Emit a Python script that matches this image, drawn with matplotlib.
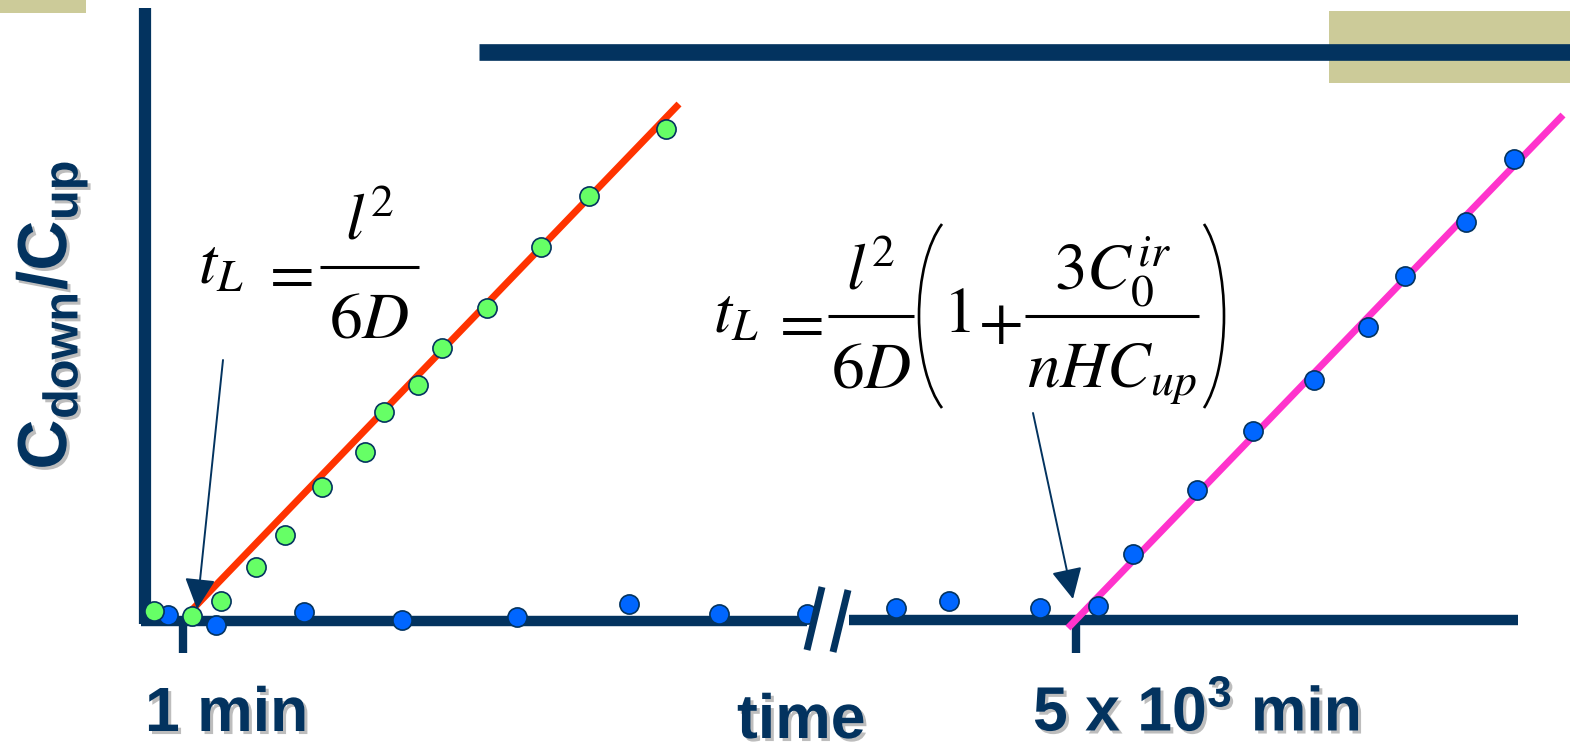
"""Schematic permeation curve: downstream/upstream concentration vs time, with lag-time formulas."""

import matplotlib
matplotlib.use("Agg")
import matplotlib.pyplot as plt
import matplotlib.patheffects as pe
import numpy as np
from matplotlib.patches import Rectangle, Arc

NAVY = "#03335f"
TAN = "#cccb99"
GREEN = "#66ff66"
BLUE = "#0066ff"
RED = "#ff3300"
PINK = "#ff33cc"

# schematic coordinates (drawing units, y grows downward like the slide)
green_x = [154, 192, 221, 256, 285, 322, 365, 384, 418, 442, 487, 541, 589, 666]
green_y = [611, 616, 601, 567, 535, 487, 452, 412, 385, 348, 308, 247, 196, 129]

blue_x = [168, 216, 304, 402, 517, 629, 719, 807, 896, 949, 1040,
          1098, 1133, 1197, 1253, 1314, 1368, 1405, 1466, 1514]
blue_y = [615, 625, 612, 620, 617, 604, 614, 614, 608, 601, 608,
          606, 554, 490, 431, 380, 327, 276, 222, 159]

red_x = [190, 679]
red_y = [612, 104]
pink_x = [1068, 1563]
pink_y = [628, 115]

tick_x = [183, 1076]
tick_labels = ["1 min", r"5 x 10$^{\mathregular{3}}$ min"]

shadow = [pe.withSimplePatchShadow(offset=(2.2, -2.2), shadow_rgbFace="#888888", alpha=0.55)]
MATH_FS = 47


def math(ax, x, y, s, ha="left", va="baseline"):
    ax.text(x, y, s, fontsize=MATH_FS, math_fontfamily="stix", ha=ha, va=va,
            color="black", zorder=8)


def fraction(ax, x0, x1, y, num, den):
    # numerator / denominator laid out like the slide's equation editor
    xc = (x0 + x1) / 2
    ax.plot([x0, x1], [y, y], color="black", lw=2.2, solid_capstyle="butt", zorder=8)
    math(ax, xc, y - 27, num, ha="center")
    math(ax, xc, y + 71, den, ha="center")


def paren(ax, x_mid, x_end, y_mid, half_h, left=True):
    # big parenthesis as an elliptical arc: x_mid = bulge, x_end = tips
    a = 2 * abs(x_end - x_mid)
    b = half_h / np.sin(np.radians(60))
    xc = x_mid + a if left else x_mid - a
    ang = np.degrees(np.arctan(b / a * np.tan(np.radians(60))))
    if left:
        t1, t2 = 180 - ang, 180 + ang
    else:
        t1, t2 = -ang, ang
    ax.add_patch(Arc((xc, y_mid), 2 * a, 2 * b, theta1=t1, theta2=t2,
                     color="black", lw=1.9, zorder=8))


fig = plt.figure(figsize=(15.7, 7.49), dpi=100)
ax = fig.add_axes([0, 0, 1, 1])
ax.set_xlim(0, 1570)
ax.set_ylim(749, 0)
ax.axis("off")

# slide decorations
ax.add_patch(Rectangle((0, 0), 86, 13, color=TAN, lw=0, zorder=1))
ax.add_patch(Rectangle((1329, 11), 241, 72, color=TAN, lw=0, zorder=1))
ax.plot([479, 1570], [51.5, 51.5], color=NAVY, lw=12, solid_capstyle="butt", zorder=2)

# axes with break
ax.plot([145, 145], [8, 624], color=NAVY, lw=8.8, solid_capstyle="butt", zorder=2)
ax.plot([141, 807], [621, 621], color=NAVY, lw=7.5, solid_capstyle="butt", zorder=2)
ax.plot([849, 1518], [619.5, 619.5], color=NAVY, lw=7.5, solid_capstyle="butt", zorder=2)
for tx in tick_x:
    ax.plot([tx, tx], [619, 653], color=NAVY, lw=6, solid_capstyle="butt", zorder=2)

# fitted lines
ax.plot(red_x, red_y, color=RED, lw=5, solid_capstyle="butt", zorder=3)
ax.plot(pink_x, pink_y, color=PINK, lw=5, solid_capstyle="butt", zorder=3)

# data points
ax.plot(blue_x, blue_y, "o", ms=13.8, mfc=BLUE, mec=NAVY, mew=1.2, zorder=4)
ax.plot(green_x, green_y, "o", ms=13.8, mfc=GREEN, mec=NAVY, mew=1.2, zorder=5)

# break marks on top
ax.plot([822, 807], [587, 650], color=NAVY, lw=5, solid_capstyle="butt", zorder=6)
ax.plot([848, 833], [590, 652], color="white", lw=9, solid_capstyle="butt", zorder=6)
ax.plot([848, 833], [590, 652], color=NAVY, lw=5, solid_capstyle="butt", zorder=6)

# arrows pointing to lag times
arrow_style = dict(arrowstyle="-|>,head_length=1.0,head_width=0.5", color=NAVY,
                   lw=1.4, mutation_scale=19, shrinkA=0, shrinkB=0)
ax.annotate("", xy=(197, 609), xytext=(223, 360), arrowprops=arrow_style, zorder=7)
ax.annotate("", xy=(1073, 599), xytext=(1033, 413), arrowprops=arrow_style, zorder=7)

# formula 1: t_L = l^2 / 6D
bar1 = 267
math(ax, 198, bar1 + 16, r"$t_L$")
math(ax, 286, bar1, r"$=$", ha="center", va="center_baseline")
fraction(ax, 320, 419, bar1, r"$l^2$", r"$6D$")

# formula 2: t_L = l^2 / 6D (1 + 3C0^ir / nHC_up)
bar2 = 316
math(ax, 713, bar2 + 16, r"$t_L$")
math(ax, 796, bar2, r"$=$", ha="center", va="center_baseline")
fraction(ax, 828, 914, bar2, r"$l^2$", r"$6D$")
math(ax, 957, bar2 + 16, r"$1$", ha="center")
math(ax, 1000, bar2, r"$+$", ha="center", va="center_baseline")
fraction(ax, 1025, 1199, bar2, r"$3C_0^{ir}$", r"$nHC_{up}$")
paren(ax, 919, 942, bar2, 92, left=True)
paren(ax, 1224, 1204, bar2, 92, left=False)

# labels
label_font = dict(family="Liberation Sans", weight="bold", color=NAVY)
ax.text(145, 731, tick_labels[0], fontsize=45, ha="left", va="baseline",
        path_effects=shadow, **label_font)
ax.text(1033, 731, tick_labels[1], fontsize=45, ha="left", va="baseline",
        path_effects=shadow, **label_font)
ax.text(737, 738, "time", fontsize=45, ha="left", va="baseline",
        path_effects=shadow, **label_font)
ax.text(52, 315, r"C$_{\mathregular{down}}$/C$_{\mathregular{up}}$", fontsize=50,
        rotation=90, ha="center", va="center", path_effects=shadow, **label_font)

fig.savefig("out.png", dpi=100)
plt.close(fig)
